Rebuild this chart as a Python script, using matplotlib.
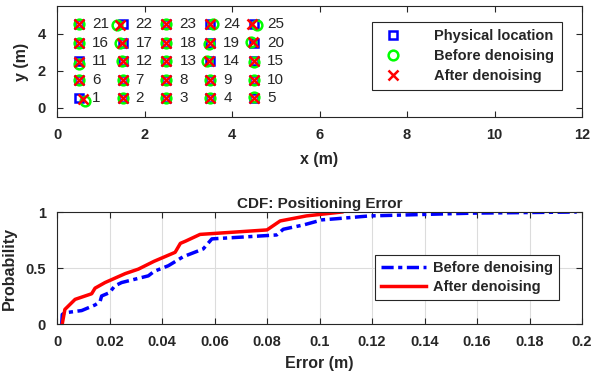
import numpy as np
import matplotlib
matplotlib.use('Agg')
import matplotlib.pyplot as plt

plt.rcParams['font.family'] = ['Liberation Sans', 'DejaVu Sans']
plt.rcParams['text.color'] = '#262626'
plt.rcParams['axes.labelcolor'] = '#262626'
plt.rcParams['xtick.color'] = '#262626'
plt.rcParams['ytick.color'] = '#262626'

# physical grid (5 x 5), point numbers
grid_x = [0.5, 1.5, 2.5, 3.5, 4.5]
grid_y = [0.5, 1.5, 2.5, 3.5, 4.5]
phys_x = [x for y in grid_y for x in grid_x]
phys_y = [y for y in grid_y for x in grid_x]
labels = [str(i + 1) for i in range(25)]

# estimates before denoising
before_x = [0.64, 1.5, 2.5, 3.5, 4.5,
            0.5, 1.5, 2.5, 3.5, 4.5,
            0.5, 1.48, 2.5, 3.42, 4.5,
            0.5, 1.44, 2.5, 3.47, 4.44,
            0.5, 1.38, 2.5, 3.56, 4.56]
before_y = [0.38, 0.5, 0.5, 0.5, 0.58,
            1.5, 1.5, 1.5, 1.5, 1.5,
            2.38, 2.5, 2.5, 2.5, 2.47,
            3.5, 3.5, 3.5, 3.47, 3.58,
            4.5, 4.47, 4.5, 4.5, 4.45]
# estimates after denoising
after_x = [0.6, 1.5, 2.5, 3.5, 4.5,
           0.5, 1.5, 2.5, 3.5, 4.5,
           0.5, 1.5, 2.5, 3.47, 4.5,
           0.5, 1.48, 2.5, 3.5, 4.47,
           0.5, 1.43, 2.5, 3.5, 4.46]
after_y = [0.45, 0.5, 0.5, 0.5, 0.5,
           1.5, 1.5, 1.5, 1.5, 1.5,
           2.45, 2.5, 2.5, 2.5, 2.5,
           3.5, 3.5, 3.5, 3.5, 3.53,
           4.5, 4.47, 4.5, 4.5, 4.5]

# CDF of positioning error
err_before = [0.0018, 0.002, 0.003, 0.0094, 0.0145, 0.0164, 0.017, 0.020, 0.022,
              0.0246, 0.0348, 0.037, 0.0424, 0.048, 0.0557, 0.059, 0.0697, 0.0837,
              0.0862, 0.094, 0.101, 0.1065, 0.119, 0.1586, 0.198]
prob_before = [0.0, 0.085, 0.10, 0.12, 0.17, 0.20, 0.25, 0.28, 0.34,
               0.37, 0.43, 0.47, 0.52, 0.60, 0.67, 0.76, 0.775, 0.795,
               0.846, 0.885, 0.93, 0.94, 0.965, 0.99, 1.0]
err_after = [0.002, 0.003, 0.0069, 0.0132, 0.0145, 0.0183, 0.026, 0.031, 0.037,
             0.041, 0.045, 0.047, 0.049, 0.0545, 0.080, 0.085, 0.095, 0.1085]
prob_after = [0.0, 0.13, 0.22, 0.27, 0.32, 0.37, 0.45, 0.49, 0.56,
              0.60, 0.64, 0.72, 0.74, 0.80, 0.84, 0.92, 0.965, 1.0]

fig = plt.figure(figsize=(5.91, 3.74), dpi=100)
W, H = 591, 374
ax1 = fig.add_axes([57 / W, 1 - 117 / H, 525 / W, 111 / H])
ax2 = fig.add_axes([57 / W, 1 - 324 / H, 525 / W, 112 / H])

ax1.plot(phys_x, phys_y, 's', mfc='none', mec='blue', ms=6, mew=1.8, label='Physical location')
ax1.plot(before_x, before_y, 'o', mfc='none', mec='#00ff00', ms=7, mew=1.8, label='Before denoising')
ax1.plot(after_x, after_y, 'x', color='red', ms=6.5, mew=1.8, label='After denoising')
for x, y, t in zip(phys_x, phys_y, labels):
    ax1.text(x + 0.3, y, t, fontsize=11, va='center', ha='left')
ax1.set_xlim(0, 12)
ax1.set_ylim(-0.5, 5.5)
ax1.set_xticks(range(0, 13, 2))
ax1.set_yticks([0, 2, 4])
ax1.set_xlabel('x (m)', fontsize=11.5, fontweight='bold', labelpad=7)
ax1.set_ylabel('y (m)', fontsize=11.5, fontweight='bold', labelpad=6)
leg1 = ax1.legend(loc='upper right', bbox_to_anchor=(0.975, 0.92), prop=dict(size=10.5, weight='bold'),
                  fancybox=False, edgecolor='#262626', framealpha=1, handletextpad=1.8,
                  borderpad=0.5, labelspacing=0.4)
leg1.get_frame().set_linewidth(0.8)

ax2.plot(err_before, prob_before, color='blue', lw=2.5, dashes=[3.5, 1.3, 1.2, 1.3],
         label='Before denoising')
ax2.plot(err_after, prob_after, '-', color='red', lw=2.5, label='After denoising')
ax2.set_xlim(0, 0.2)
ax2.set_ylim(0, 1)
ax2.set_xticks(np.round(np.arange(0, 0.201, 0.02), 2))
ax2.set_xticklabels(['0', '0.02', '0.04', '0.06', '0.08', '0.1', '0.12', '0.14', '0.16', '0.18', '0.2'])
ax2.set_yticks([0, 0.5, 1])
ax2.set_yticklabels(['0', '0.5', '1'])
ax2.grid(True, color='#dcdcdc', lw=0.8)
ax2.set_axisbelow(True)
ax2.set_xlabel('Error (m)', fontsize=11.5, fontweight='bold', labelpad=5)
ax2.set_ylabel('Probability', fontsize=11.5, fontweight='bold', labelpad=6)
ax2.set_title('CDF: Positioning Error', fontsize=11, fontweight='bold', pad=3)
leg2 = ax2.legend(loc='lower right', bbox_to_anchor=(0.97, 0.15), prop=dict(size=10.5, weight='bold'),
                  fancybox=False, edgecolor='#262626', framealpha=1, handlelength=3.1,
                  handletextpad=0.5, borderpad=0.4, labelspacing=0.35)
leg2.get_frame().set_linewidth(0.8)

for ax in (ax1, ax2):
    ax.tick_params(direction='in', top=True, right=True, length=4, width=0.8, pad=8)
    for lab in ax.get_xticklabels() + ax.get_yticklabels():
        lab.set_fontweight('bold')
        lab.set_fontsize(10.5)
    for s in ax.spines.values():
        s.set_color('#262626')
        s.set_linewidth(0.8)

fig.savefig('out.png', dpi=100)
